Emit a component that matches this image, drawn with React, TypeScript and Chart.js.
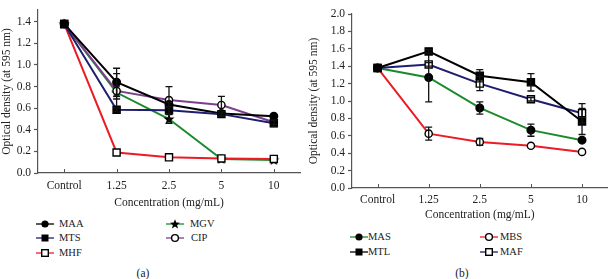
import React, { useEffect, useRef } from "react";
import { Chart, registerables } from "chart.js";
Chart.register(...registerables);

const categories = ["Control", "1.25", "2.5", "5", "10"];

// Panel (a)
const maaValues = [1.38, 0.84, 0.635, 0.55, 0.525];
const maaErrors = [0, 0.13, 0.02, 0.02, 0];
const mtsValues = [1.38, 0.585, 0.58, 0.545, 0.46];
const mtsErrors = [0, 0.02, 0.03, 0.02, 0.03];
const mhfValues = [1.38, 0.19, 0.145, 0.135, 0.13];
const mhfErrors = [0, 0, 0, 0, 0];
const mgvValues = [1.38, 0.745, 0.5, 0.13, 0.12];
const mgvErrors = [0, 0.06, 0.04, 0, 0];
const cipValues = [1.38, 0.76, 0.675, 0.63, 0.47];
const cipErrors = [0, 0.16, 0.125, 0.08, 0.02];

// Panel (b)
const masValues = [1.38, 1.27, 0.92, 0.665, 0.55];
const masErrors = [0, 0.28, 0.07, 0.07, 0];
const mtlValues = [1.38, 1.57, 1.29, 1.215, 0.765];
const mtlErrors = [0, 0.02, 0.07, 0.1, 0.15];
const mbsValues = [1.38, 0.625, 0.53, 0.485, 0.415];
const mbsErrors = [0, 0.075, 0.04, 0, 0];
const mafValues = [1.38, 1.42, 1.2, 1.02, 0.86];
const mafErrors = [0, 0.02, 0.08, 0.02, 0.11];

const leftTickValues = [0, 0.2, 0.4, 0.6, 0.8, 1.0, 1.2, 1.4];
const rightTickValues = [0, 0.2, 0.4, 0.6, 0.8, 1.0, 1.2, 1.4, 1.6, 1.8, 2.0];

const RED = "#ec1c24";
const GREEN = "#1b8a2c";
const NAVY = "#1e1e6e";
const PURPLE = "#7d3f8e";
const BLACK = "#000000";
const AXIS = "#555555";
const SERIF = "'Liberation Serif', 'DejaVu Serif', serif";

function makeStar(): HTMLCanvasElement {
  const c = document.createElement("canvas");
  c.width = 12;
  c.height = 12;
  const ctx = c.getContext("2d")!;
  ctx.fillStyle = "#000";
  ctx.beginPath();
  for (let i = 0; i < 10; i++) {
    const r = i % 2 === 0 ? 5.8 : 2.4;
    const a = -Math.PI / 2 + (i * Math.PI) / 5;
    const x = 6 + r * Math.cos(a);
    const y = 6.4 + r * Math.sin(a);
    if (i === 0) ctx.moveTo(x, y);
    else ctx.lineTo(x, y);
  }
  ctx.closePath();
  ctx.fill();
  return c;
}

const errorBarPlugin = {
  id: "errorBars",
  afterDatasetsDraw(chart: any) {
    const ctx = chart.ctx;
    const y = chart.scales.y;
    chart.data.datasets.forEach((ds: any, i: number) => {
      const errs = ds.errors as number[] | undefined;
      if (!errs) return;
      const meta = chart.getDatasetMeta(i);
      meta.data.forEach((pt: any, j: number) => {
        const e = errs[j];
        if (!e) return;
        const v = ds.data[j] as number;
        const top = y.getPixelForValue(v + e);
        const bot = y.getPixelForValue(v - e);
        ctx.save();
        ctx.strokeStyle = "#111";
        ctx.lineWidth = 1.3;
        ctx.beginPath();
        ctx.moveTo(pt.x, top);
        ctx.lineTo(pt.x, bot);
        ctx.moveTo(pt.x - 3.5, top);
        ctx.lineTo(pt.x + 3.5, top);
        ctx.moveTo(pt.x - 3.5, bot);
        ctx.lineTo(pt.x + 3.5, bot);
        ctx.stroke();
        ctx.restore();
      });
    });
  },
};

const innerTickPlugin = {
  id: "innerTicks",
  afterDraw(chart: any) {
    const ctx = chart.ctx;
    const x = chart.scales.x;
    const bottom = chart.chartArea.bottom;
    ctx.save();
    ctx.strokeStyle = AXIS;
    ctx.lineWidth = 1;
    ctx.beginPath();
    for (let i = 0; i < categories.length; i++) {
      const px = Math.round(x.getPixelForTick(i)) + 0.5;
      ctx.moveTo(px, bottom);
      ctx.lineTo(px, bottom - 4);
    }
    ctx.stroke();
    ctx.restore();
  },
};

function ds(label: string, data: number[], errors: number[], color: string, style: any, filled: boolean, radius: number) {
  return {
    label,
    data,
    errors,
    borderColor: color,
    borderWidth: 2,
    pointStyle: style,
    pointRadius: radius,
    pointBackgroundColor: filled ? "#000" : "#fff",
    pointBorderColor: "#000",
    pointBorderWidth: 1.4,
    tension: 0,
    fill: false,
  } as any;
}

function buildOptions(opts: {
  yMax: number;
  ticks: number[];
  yWidth: number;
  xHeight: number;
  padTop: number;
  padRight: number;
  labelPad: number;
}) {
  return {
    responsive: false,
    animation: false,
    events: [],
    layout: { padding: { top: opts.padTop, right: opts.padRight, left: 0, bottom: 0 } },
    plugins: { legend: { display: false }, tooltip: { enabled: false } },
    scales: {
      x: {
        type: "category",
        offset: true,
        border: { display: true, color: AXIS, width: 1.2 },
        grid: { display: true, drawOnChartArea: false, drawTicks: false, color: AXIS },
        ticks: { color: "#222", font: { family: SERIF, size: 11.5 }, padding: opts.labelPad, maxRotation: 0, autoSkip: false },
        title: {
          display: true,
          text: "Concentration (mg/mL)",
          color: "#222",
          font: { family: SERIF, size: 11.5 },
          padding: { top: 0, bottom: 2 },
        },
        afterFit(scale: any) {
          scale.height = opts.xHeight;
        },
      },
      y: {
        type: "linear",
        min: 0,
        max: opts.yMax,
        border: { display: true, color: AXIS, width: 1.2 },
        grid: { display: true, drawOnChartArea: false, drawTicks: true, tickLength: 4, color: AXIS, tickWidth: 1.2 },
        ticks: {
          color: "#222",
          font: { family: SERIF, size: 11.5 },
          padding: 3,
          callback: (v: any) => Number(v).toFixed(1),
        },
        afterBuildTicks(scale: any) {
          scale.ticks = opts.ticks.map((v) => ({ value: v }));
        },
        title: {
          display: true,
          text: "Optical density (at 595 nm)",
          color: "#222",
          font: { family: SERIF, size: 11.5 },
          padding: { top: 0, bottom: 0 },
        },
        afterFit(scale: any) {
          scale.width = opts.yWidth;
        },
      },
    },
  } as any;
}

function Marker({ kind, color }: { kind: string; color: string }) {
  let m: any = null;
  if (kind === "circle") m = <circle cx={9} cy={5} r={3.6} fill="#000" />;
  if (kind === "ocircle") m = <circle cx={9} cy={5} r={3.4} fill="#fff" stroke="#000" strokeWidth={1.4} />;
  if (kind === "square") m = <rect x={5.5} y={1.5} width={7} height={7} fill="#000" />;
  if (kind === "osquare") m = <rect x={5.7} y={1.7} width={6.6} height={6.6} fill="#fff" stroke="#000" strokeWidth={1.4} />;
  if (kind === "star") {
    const pts: string[] = [];
    for (let i = 0; i < 10; i++) {
      const r = i % 2 === 0 ? 5.2 : 2.2;
      const a = -Math.PI / 2 + (i * Math.PI) / 5;
      pts.push(`${(9 + r * Math.cos(a)).toFixed(2)},${(5.4 + r * Math.sin(a)).toFixed(2)}`);
    }
    m = <polygon points={pts.join(" ")} fill="#000" />;
  }
  return (
    <svg width={18} height={10} style={{ position: "absolute", left: 0, top: 0, overflow: "visible" }}>
      <line x1={0} y1={5} x2={18} y2={5} stroke={color} strokeWidth={1.3} />
      {m}
    </svg>
  );
}

function LegendItem({ x, y, textX, label, kind, color }: any) {
  return (
    <>
      <div style={{ position: "absolute", left: x - 9, top: y - 5, width: 18, height: 10 }}>
        <Marker kind={kind} color={color} />
      </div>
      <div
        style={{
          position: "absolute",
          left: textX,
          top: y - 7,
          lineHeight: "14px",
          fontFamily: SERIF,
          fontSize: 10.5,
          color: "#222",
          whiteSpace: "nowrap",
        }}
      >
        {label}
      </div>
    </>
  );
}

export default function App() {
  const leftRef = useRef<HTMLCanvasElement>(null);
  const rightRef = useRef<HTMLCanvasElement>(null);

  useEffect(() => {
    const star = makeStar();
    const left = new Chart(leftRef.current!, {
      type: "line",
      data: {
        labels: categories,
        datasets: [
          ds("MTS", mtsValues, mtsErrors, NAVY, "rect", true, 5),
          ds("MAA", maaValues, maaErrors, BLACK, "circle", true, 3.8),
          ds("MHF", mhfValues, mhfErrors, RED, "rect", false, 5),
          ds("CIP", cipValues, cipErrors, PURPLE, "circle", false, 3.6),
          ds("MGV", mgvValues, mgvErrors, GREEN, star, true, 5),
        ],
      },
      options: buildOptions({ yMax: 1.51, ticks: leftTickValues, yWidth: 38, xHeight: 39, padTop: 0, padRight: 7, labelPad: 6 }),
      plugins: [errorBarPlugin, innerTickPlugin],
    } as any);
    const right = new Chart(rightRef.current!, {
      type: "line",
      data: {
        labels: categories,
        datasets: [
          ds("MTL", mtlValues, mtlErrors, BLACK, "rect", true, 5),
          ds("MAF", mafValues, mafErrors, NAVY, "rect", false, 5),
          ds("MAS", masValues, masErrors, GREEN, "circle", true, 3.8),
          ds("MBS", mbsValues, mbsErrors, RED, "circle", false, 3.6),
        ],
      },
      options: buildOptions({ yMax: 2.0, ticks: rightTickValues, yWidth: 45, xHeight: 36, padTop: 14, padRight: 2, labelPad: 5 }),
      plugins: [errorBarPlugin, innerTickPlugin],
    } as any);
    return () => {
      left.destroy();
      right.destroy();
    };
  }, []);

  return (
    <div style={{ position: "absolute", left: 0, top: 0, width: 614, height: 279, background: "#fff", overflow: "hidden" }}>
      <canvas ref={leftRef} width={307} height={212} style={{ position: "absolute", left: 0, top: 0, width: 307, height: 212 }} />
      <canvas ref={rightRef} width={307} height={224} style={{ position: "absolute", left: 307, top: 0, width: 307, height: 224 }} />

      <LegendItem x={45} y={224} textX={59} label="MAA" kind="circle" color={BLACK} />
      <LegendItem x={45} y={238} textX={59} label="MTS" kind="square" color={NAVY} />
      <LegendItem x={45} y={253} textX={59} label="MHF" kind="osquare" color={RED} />
      <LegendItem x={175} y={224} textX={190} label="MGV" kind="star" color={GREEN} />
      <LegendItem x={175} y={238} textX={191} label="CIP" kind="ocircle" color={PURPLE} />

      <LegendItem x={359} y={237} textX={368} label="MAS" kind="circle" color={GREEN} />
      <LegendItem x={359} y={252} textX={368} label="MTL" kind="square" color={BLACK} />
      <LegendItem x={489} y={237} textX={500} label="MBS" kind="ocircle" color={RED} />
      <LegendItem x={489} y={252} textX={500} label="MAF" kind="osquare" color={NAVY} />

      <div style={{ position: "absolute", left: 133, top: 265, width: 20, textAlign: "center", fontFamily: SERIF, fontSize: 11.5, lineHeight: "16px", color: "#222" }}>(a)</div>
      <div style={{ position: "absolute", left: 452, top: 265, width: 20, textAlign: "center", fontFamily: SERIF, fontSize: 11.5, lineHeight: "16px", color: "#222" }}>(b)</div>
    </div>
  );
}
